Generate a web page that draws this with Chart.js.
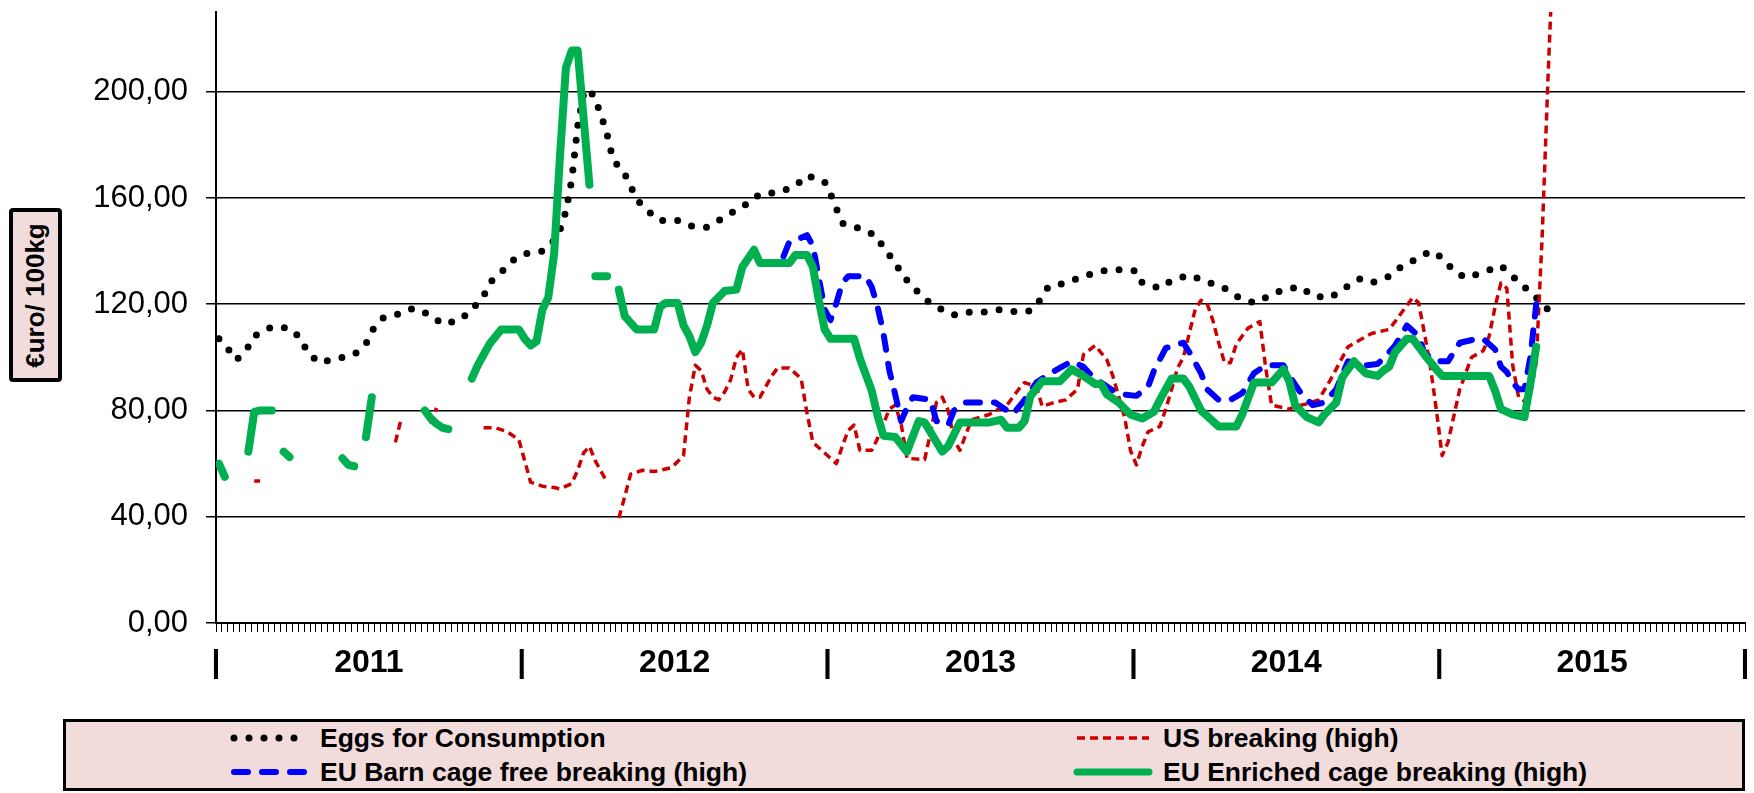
<!DOCTYPE html>
<html>
<head>
<meta charset="utf-8">
<script src="https://cdn.jsdelivr.net/npm/chart.js@4.4.1/dist/chart.umd.min.js"></script>
<style>
  body { margin: 0; background: #fff; font-family: "Liberation Sans", Arial, sans-serif; }
  #wrap { position: relative; width: 1754px; height: 793px; }
  #chartBox { position: absolute; left: 0; top: 0; width: 1754px; height: 700px; }
  #yTitle {
    position: absolute; left: 9px; top: 208px; width: 45px; height: 166px;
    border: 4px solid #000; border-radius: 4px; background: #f2dcdb;
    display: flex; align-items: center; justify-content: center;
  }
  #yTitle span { transform: rotate(-90deg); white-space: nowrap; font-weight: bold; font-size: 26px; }
  #legend {
    position: absolute; left: 63px; top: 719px; width: 1676px; height: 66px;
    border: 3px solid #000; background: #f2dcdb;
  }
  .item { position: absolute; display: flex; align-items: center; height: 30px; font-weight: bold; font-size: 26.5px; }
  .item svg { margin-right: 9px; }
</style>
</head>
<body>
<div id="wrap">
  <div id="chartBox"><canvas id="eggChart"></canvas></div>
  <div id="yTitle"><span>€uro/ 100kg</span></div>
  <div id="legend"></div>
</div>
<script>
// weekly x axis, 52 weeks per year
const years = ['2011', '2012', '2013', '2014', '2015'];
const weeksPerYear = 52;

// Eggs for Consumption
const eggsWeeks = [0,2,3,5,6,9,12,14,15,17,20,23,25,26,28,31,33,36,38,41,43,45,46,48,50,52,55,57,58,59,
  60,61,62,63,64,65,66,67,69,70,71,73,75,78,80,83,85,88,90,92,95,98,100,103,104,105,106,109,112,113,
  115,116,118,120,122,125,127,130,133,136,138,140,141,144,147,150,153,156,157,160,162,165,168,171,173,176,178,181,184,186,
  189,191,194,196,199,201,204,206,208,210,212,215,218,220,222,224,226,228];
const eggsValues = [107,102,99,104,108,111.5,111,107,102,98,99.5,101,105,110,115,116.5,118.5,116,112.5,114,118,123,128,132,136.5,139,140,144,148,155,
  167,187,199,201,197,191,184,174.5,169,164.5,159.5,155,151.5,151.5,149.5,149,151.5,155.5,158,161.5,162,164.5,168.5,166,161.5,156,150.5,148.5,145.5,141,
  136,131.5,126.5,122,119,116,117,117,118,117,117.5,122.5,126.5,128,130.5,132.5,133,132.5,128,126,129,131,128.5,126,123,120.5,122.5,125.5,126.5,123,
  122.5,125.5,129.5,128,130.5,134,137.5,140,137.5,132.5,130,132,134.5,130.5,126.5,122.5,118,116];

// US breaking (high) - null marks a break in the line
const usWeeks = [6,7,8, 30,31,32, 36,37,38,
  45,47,49,51,52,53,55,57,58,60,61,62,63,64,65,66,67,
  68,69,70,72,74,77,79,80,81,82,83,84,85,86,87,88,89,90,91,92,94,95,97,99,100,101,103,105,106,107,108,109,111,112,
  114,115,116,117,120,121,122,123,124,125,126,127,128,131,133,134,136,137,139,140,142,144,146,147,149,151,152,154,155,156,
  157,158,160,161,162,163,164,166,167,168,169,170,171,172,173,175,177,178,179,182,183,185,187,189,192,194,196,199,201,203,
  204,205,206,207,208,209,211,213,215,216,217,218,219,220,221,222,223,224,225,226,227];
const usValues = [53.5,53.5,null, 68,77,null, 75,81,null,
  73.5,73.5,72,69,61,53,51.5,51,50.5,52.5,57.5,64,66.5,61,57,53,null,
  39.5,47.5,56,57.5,57,58.5,63,85,97,95,88,85,84,87,91.5,100,103,88,85,85,93,96,96,92,79,68,64,60,66.5,72.5,74.5,65,65,69.5,
  80.5,82,75,62,61.5,71.5,83,85,80,69,65,71,76.5,78.5,81,82,88,90.5,89,81.5,83,84,88,101,104.5,99,93,77.5,65,59.5,
  66.5,72,74,80.5,88,96,100,118,121.5,120.5,114,105.5,98,98,105,111,113.5,96,82,80.5,81.5,82.5,84,91.5,104,106.5,109,110.5,116.5,122.5,
  120.5,109,96.5,80.5,63,68,88,100,102.5,108,119,128,126,97,85,83.5,86,98,145,205,260];

// EU Barn cage free breaking (high)
const barnWeeks = [96,97,99,100,101,102,103,104,105,106,107,110,111,112,113,114,115,116,117,118,121,122,124,125,127,132,134,135,137,139,
  141,143,145,147,148,150,152,154,156,158,159,161,164,165,167,168,170,172,174,176,178,181,182,184,186,188,190,191,192,195,
  197,198,200,202,204,205,207,209,211,214,215,217,218,219,220,221,222,223,224];
const barnValues = [138,143.5,145,146,142,130,118,114,120.5,128,130.5,130.5,126.5,119,109,95,86,76,81,85,84,76,74.5,80,83,83,80,78.5,84,90.5,
  93.5,96,98.5,96.5,94,90.5,87.5,86,85.5,89,95,103.5,105.5,102,94,88,84,84,86.5,94,97,97,93,86.5,82,83,88,93.5,98.5,97,
  97.5,99.5,104.5,112,108,101.5,98.5,98.5,105.5,107,107,103,96.5,94.5,90.5,88,88,100,120];

// EU Enriched cage breaking (high) - null marks a break in the line
const enrichedWeeks = [0,1,3, 5,6,7,8,9,10, 11,12,16, 21,22,23,24, 25,26,30, 35,36,37,38,39,41,
  43,44,45,46,48,51,52,53,54,55,56,57,58,59,60,61,63,63.5, 64,66,67,
  68,69,71,74,75,76,78,79,80,81,82,83,84,86,88,89,91,92,97,98,100,101,102,103,104,108,109,111,112,113,
  115,117,119,120,123,124,126,131,133,134,136,137,138,140,143,145,147,149,150,151,153,155,157,159,160,162,164,165,167,170,
  173,174,176,179,181,182,183,185,187,188,190,191,193,195,197,198,199,200,202,203,205,207,208,216,217,218,220,222,223,224];
const enrichedValues = [60,55,null, 64.5,79.5,80,80,80,null, 64.5,62.5,null, 62,59.5,59,null, 70,85,null, 80,77,75,73.5,73,null,
  92,97,101,105,110.5,110.5,107,104.5,106,118,122.5,139,176,209,215.5,215.5,165,null, 130.5,130.5,null,
  125.5,115.5,110.5,110.5,119,120.5,120.5,112,108,102,105.5,112,120.5,125,125.5,134,140.5,135.5,135.5,138.5,138.5,134,121.5,110.5,107,107,99.5,87.5,78,70.5,
  70,64.5,76,75.5,64.5,66.5,75.5,75.5,76.5,73.5,73.5,76,85.5,91,91,95.5,93,90,90,86,83,78.5,77,79.5,84,92,92,89,80,74,
  74,78.5,90.5,90.5,95.5,91,82,77.5,75.5,78.5,83,92.5,98.5,94,93,95,96.5,102,107,107,101,95.5,93,93,87.5,80.5,78.5,77.5,90,104];

const seriesLabels = ['Eggs for Consumption', 'US breaking (high)', 'EU Barn cage free breaking (high)', 'EU Enriched cage breaking (high)'];

function toPoints(weeks, values) {
  // each week sits in the middle of its category slot
  return weeks.map((w, i) => ({ x: w + 0.5, y: values[i] }));
}

const ctx = document.getElementById('eggChart').getContext('2d');
const chart = new Chart(ctx, {
  type: 'line',
  data: {
    datasets: [
      {
        label: seriesLabels[0],
        data: toPoints(eggsWeeks, eggsValues),
        borderColor: '#000000',
        borderWidth: 7,
        borderDash: [0, 15],
        borderCapStyle: 'round',
        order: 4
      },
      {
        label: seriesLabels[1],
        data: toPoints(usWeeks, usValues),
        borderColor: '#cc0000',
        borderWidth: 3.5,
        borderDash: [8, 5],
        borderCapStyle: 'butt',
        order: 3
      },
      {
        label: seriesLabels[2],
        data: toPoints(barnWeeks, barnValues),
        borderColor: '#0000ff',
        borderWidth: 6,
        borderDash: [14, 14],
        borderCapStyle: 'round',
        order: 2
      },
      {
        label: seriesLabels[3],
        data: toPoints(enrichedWeeks, enrichedValues),
        borderColor: '#00b050',
        borderWidth: 8,
        borderDash: [],
        borderCapStyle: 'round',
        order: 1
      }
    ]
  },
  options: {
    responsive: true,
    maintainAspectRatio: false,
    animation: false,
    layout: { padding: { top: 12, right: 9, left: 0, bottom: 0 } },
    elements: {
      point: { radius: 0 },
      line: { tension: 0, borderJoinStyle: 'round', fill: false }
    },
    spanGaps: false,
    plugins: {
      legend: { display: false },
      tooltip: { enabled: false }
    },
    scales: {
      x: {
        type: 'linear',
        min: 0,
        max: years.length * weeksPerYear,
        afterBuildTicks: (scale) => {
          const ticks = [];
          for (let w = 0; w <= years.length * weeksPerYear; w++) ticks.push({ value: w });
          scale.ticks = ticks;
        },
        afterFit: (scale) => {
          scale.height = 77;
          scale.paddingLeft = 0;
          scale.paddingRight = 0;
        },
        grid: { drawOnChartArea: false, drawTicks: true, tickLength: 9, color: '#000', lineWidth: 1 },
        border: { display: true, color: '#000', width: 2 },
        ticks: {
          autoSkip: false,
          maxRotation: 0,
          padding: 12,
          color: '#000',
          font: { family: '"Liberation Sans", Arial, sans-serif', size: 32, weight: 'bold' },
          callback: (value) => {
            if (value % weeksPerYear === 0) return '|';
            if (value % weeksPerYear === weeksPerYear / 2) return years[Math.floor(value / weeksPerYear)];
            return '';
          }
        }
      },
      y: {
        min: 0,
        max: 230,
        afterBuildTicks: (scale) => {
          scale.ticks = scale.ticks.filter(t => t.value % 40 === 0);
        },
        afterFit: (scale) => {
          scale.width = 216;
          scale.paddingTop = 0;
          scale.paddingBottom = 0;
        },
        grid: { color: '#000', lineWidth: 1.5, drawTicks: true, tickLength: 10 },
        border: { display: true, color: '#000', width: 2 },
        ticks: {
          stepSize: 40,
          padding: 18,
          color: '#000',
          font: { family: '"Liberation Sans", Arial, sans-serif', size: 31 },
          callback: (value) => value.toFixed(2).replace('.', ',')
        }
      }
    }
  }
});

// legend in two columns, built from the datasets
function buildLegend(chart) {
  const box = document.getElementById('legend');
  chart.data.datasets.forEach((ds, i) => {
    const item = document.createElement('div');
    item.className = 'item';
    item.style.left = (i % 2 ? 1006 : 163) + 'px';
    item.style.top = (Math.floor(i / 2) ? 35 : 1) + 'px';
    const dash = ds.borderDash.length ? ds.borderDash.join(' ') : 'none';
    item.innerHTML = `<svg width="82" height="14"><line x1="5" y1="7" x2="77" y2="7" stroke="${ds.borderColor}"
      stroke-width="${Math.min(ds.borderWidth, 7)}" stroke-dasharray="${dash}" stroke-linecap="${ds.borderCapStyle}"/></svg>
      <span>${ds.label}</span>`;
    box.appendChild(item);
  });
}
buildLegend(chart);
</script>
</body>
</html>
